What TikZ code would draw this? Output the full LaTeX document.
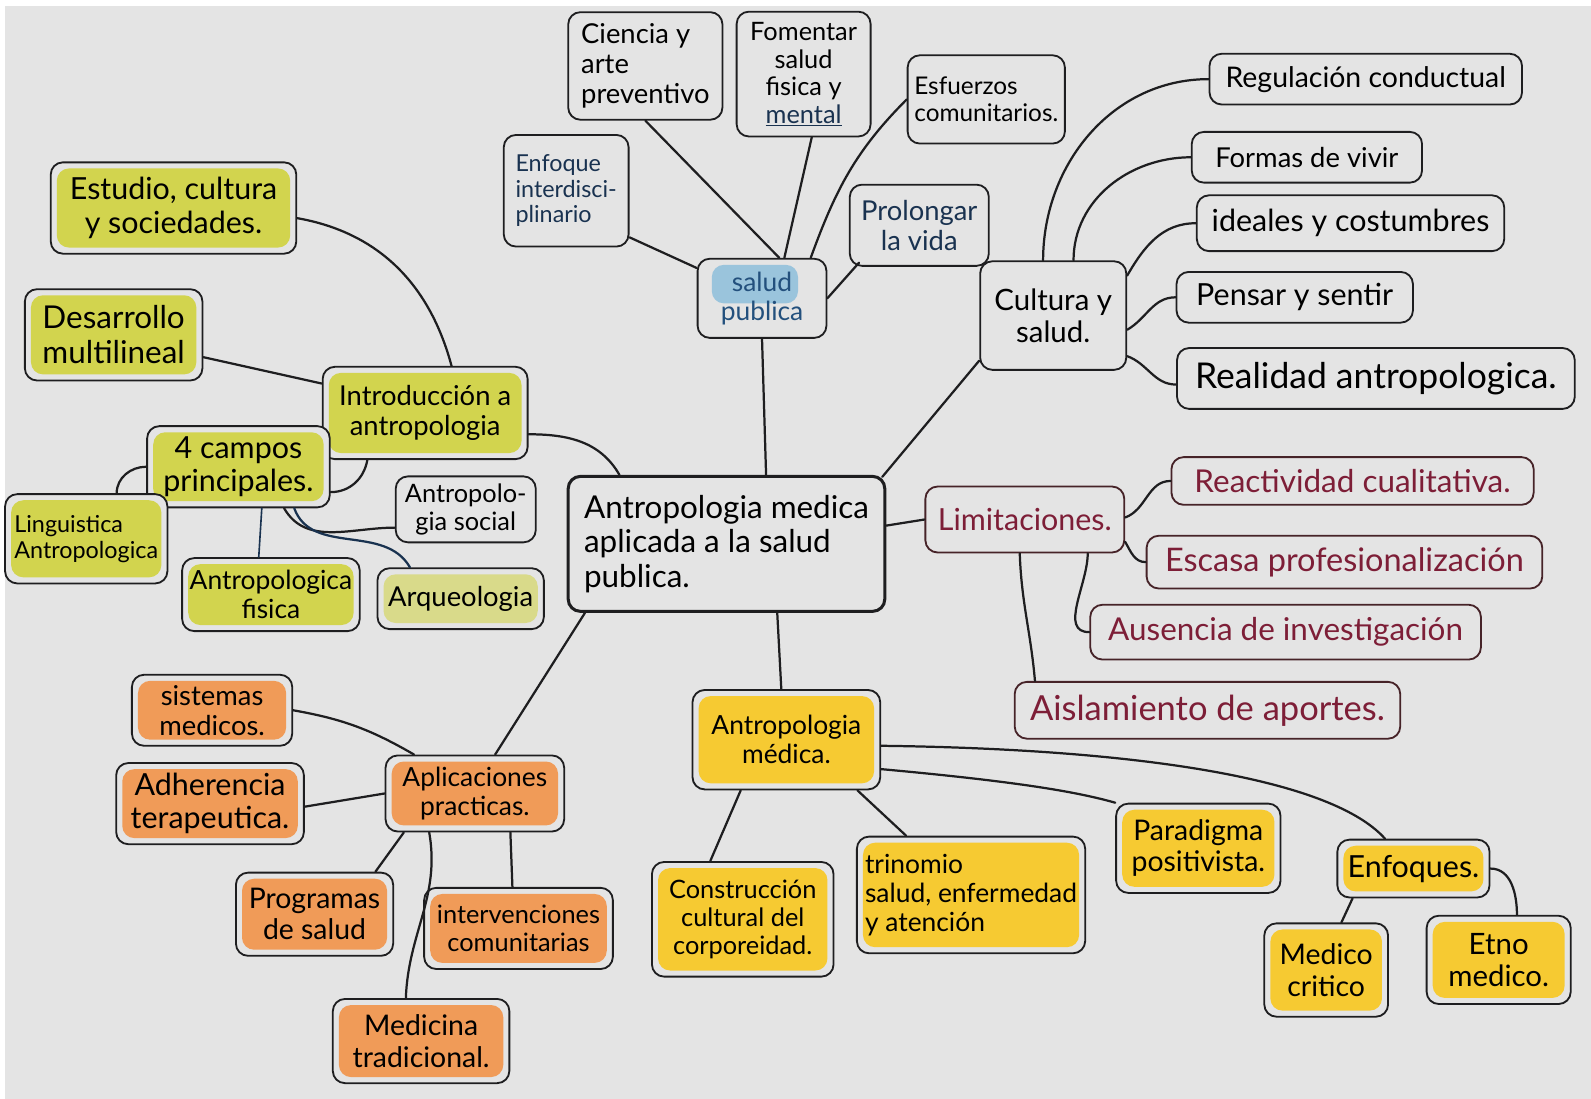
\documentclass[tikz,border=0pt]{standalone}
\usepackage{fontspec}
\setmainfont{Lato}
\definecolor{bg}{RGB}{228,228,228}
\definecolor{ink}{RGB}{30,30,32}
\definecolor{hlgreen}{RGB}{210,212,78}
\definecolor{hlorange}{RGB}{240,155,88}
\definecolor{hlgold}{RGB}{246,202,50}
\definecolor{hlblue}{RGB}{95,170,215}
\definecolor{bluetext}{RGB}{35,80,125}
\definecolor{darkblue}{RGB}{25,50,80}
\definecolor{redtext}{RGB}{125,30,55}
\definecolor{redline}{RGB}{70,35,40}
\tikzset{
  fs/.style={font=\fontsize{#1}{\fpeval{round(#1*1.1,1)}}\selectfont},
  box/.style={draw=ink, line width=1.8pt, rounded corners=12pt, fill=bg, align=center, inner sep=2pt},
  hl/.style={path picture={\fill[#1] ([xshift=6pt,yshift=-6pt]path picture bounding box.north west) rectangle ([xshift=-6pt,yshift=6pt]path picture bounding box.south east);}},
  conn/.style={line width=2.2pt, draw=ink, line cap=round},
  wh/.style 2 args={minimum width=#1, minimum height=#2},
}
\begin{document}
\begin{tikzpicture}[x=1pt,y=-1pt]
\useasboundingbox (0,0) rectangle (1568,1083);
\fill[white] (0,0) rectangle (1568,1083);
\fill[bg] (5,6) rectangle (1568,1083);

% central
\node[box, line width=3pt, wh={312}{133}, align=left, fs=31] (central) at (716,536) {Antropologia medica\\aplicada a la salud\\publica.};

% salud publica group
\node[box, wh={127}{78}, fs=26, text=bluetext, path picture={\fill[hlblue, opacity=0.55] ([xshift=14pt,yshift=-6pt]path picture bounding box.north west) rectangle ([xshift=-28pt,yshift=34pt]path picture bounding box.south east);}] (salud) at (751,294) {salud\\publica};
\node[box, wh={123}{110}, fs=23, align=left, text=darkblue] (enfoque) at (558,188) {Enfoque\\interdisci-\\plinario};
\node[box, wh={152}{106}, fs=27, align=left] (ciencia) at (636,65) {Ciencia y\\arte\\preventivo};
\node[box, wh={132}{123}, font=\fontsize{25}{27}\selectfont] (fomentar) at (792,73) {Fomentar\\salud\\fisica y\\\textcolor{darkblue}{\underline{mental}}};
\node[box, wh={155}{87}, fs=24, align=left] (esfuerzos) at (972,98) {Esfuerzos\\comunitarios.};
\node[box, wh={137}{80}, fs=27, text=darkblue] (prolongar) at (906,222) {Prolongar\\la vida};

% cultura y salud group
\node[box, wh={144}{107}, fs=29] (cultura) at (1038,311) {Cultura y\\salud.};
\node[box, wh={308}{50}, fs=28] (regulacion) at (1346,78) {Regulación conductual};
\node[box, wh={227}{50}, fs=27] (formas) at (1288,155) {Formas de vivir};
\node[box, wh={303}{55}, fs=30] (ideales) at (1331,220) {ideales y costumbres};
\node[box, wh={233}{50}, fs=30] (pensar) at (1276,293) {Pensar y sentir};
\node[box, wh={392}{60}, fs=35] (realidad) at (1356,373) {Realidad antropologica.};

% limitaciones group
\node[box, draw=redline, wh={196}{65}, fs=30, text=redtext] (limitaciones) at (1010,512) {Limitaciones.};
\node[box, draw=redline, wh={357}{47}, fs=31, text=redtext] (reactividad) at (1333,474) {Reactividad cualitativa.};
\node[box, draw=redline, wh={390}{52}, fs=32, text=redtext] (escasa) at (1325,554) {Escasa profesionalización};
\node[box, draw=redline, wh={385}{54}, fs=31, text=redtext] (ausencia) at (1267,623) {Ausencia de investigación};
\node[box, draw=redline, wh={380}{56}, fs=34, text=redtext] (aislamiento) at (1190,700) {Aislamiento de aportes.};

% introduccion group
\node[box, hl=hlgreen, wh={202}{91}, fs=27] (introduccion) at (419,407) {Introducción a\\antropologia};
\node[box, hl=hlgreen, wh={242}{90}, fs=30] (estudio) at (171,205) {Estudio, cultura\\y sociedades.};
\node[box, hl=hlgreen, wh={175}{90}, fs=31, align=left] (desarrollo) at (112,330) {Desarrollo\\multilineal};
\node[box, hl=hlgreen, wh={180}{80}, fs=30] (campos) at (235,460) {4 campos\\principales.};
\node[box, hl=hlgreen, wh={160}{88}, fs=23, align=left] (linguistica) at (85,531) {Linguistica\\Antropologica};
\node[box, hl=hlgreen, wh={175}{72}, fs=26] (fisica) at (267,586) {Antropologica\\fisica};
\node[box, wh={138}{65}, fs=25] (social) at (459,502) {Antropolo-\\gia social};
\node[box, hl={hlgreen!60!bg}, wh={164}{60}, fs=27] (arqueologia) at (454,590) {Arqueologia};

% aplicaciones group
\node[box, hl=hlorange, wh={176}{75}, fs=26] (aplicaciones) at (468,782) {Aplicaciones\\practicas.};
\node[box, hl=hlorange, wh={158}{70}, fs=27] (sistemas) at (209,700) {sistemas\\medicos.};
\node[box, hl=hlorange, wh={185}{80}, fs=30] (adherencia) at (207,792) {Adherencia\\terapeutica.};
\node[box, hl=hlorange, wh={155}{82}, fs=28] (programas) at (310,901) {Programas\\de salud};
\node[box, hl=hlorange, wh={186}{80}, fs=25] (intervenciones) at (511,915) {intervenciones\\comunitarias};
\node[box, hl=hlorange, wh={174}{83}, fs=28] (medicina) at (415,1026) {Medicina\\tradicional.};

% antropologia medica group
\node[box, hl=hlgold, wh={185}{98}, fs=26] (antmed) at (775,729) {Antropologia\\médica.};
\node[box, hl=hlgold, wh={179}{113}, fs=25] (construccion) at (732,906) {Construcción\\cultural del\\corporeidad.};
\node[box, hl=hlgold, wh={225}{115}, fs=26, align=left] (trinomio) at (957,882) {trinomio\\salud, enfermedad\\y atención};
\node[box, hl=hlgold, wh={162}{88}, fs=28] (paradigma) at (1181,836) {Paradigma\\positivista.};
\node[box, hl=hlgold, wh={150}{57}, fs=30] (enfoques) at (1393,856) {Enfoques.};
\node[box, hl=hlgold, wh={122}{92}, fs=28] (critico) at (1307,956) {Medico\\critico};
\node[box, hl=hlgold, wh={142}{87}, fs=29] (etno) at (1477,946) {Etno\\medico.};

% ---- connectors ----
\draw[conn] ([xshift=39pt]central.north) -- (salud.south);
\draw[conn] ([xshift=-4pt,yshift=-2pt]central.north east) -- ([yshift=10pt]cultura.south west);
\draw[conn] ([yshift=18pt]central.east) -- (limitaciones.west);
\draw[conn] ([xshift=50pt]central.south) -- ([xshift=-5pt]antmed.north);
\draw[conn] ([xshift=18pt]central.south west) -- ([xshift=20pt]aplicaciones.north);
\draw[conn] ([yshift=-21pt]introduccion.east) to[out=0,in=120] ([xshift=52pt]central.north west);

\draw[conn] ([yshift=10pt]enfoque.south east) -- ([yshift=-10pt]salud.north west);
\draw[conn] (ciencia.south) -- ([xshift=17pt]salud.north);
\draw[conn] ([xshift=8pt]fomentar.south) -- ([xshift=22pt]salud.north);
\draw[conn] (esfuerzos.west) to[out=225,in=70] ([xshift=48pt]salud.north);
\draw[conn] ([xshift=10pt,yshift=4pt]prolongar.south west) -- (salud.east);

\draw[conn] ([xshift=-10pt]cultura.north) to[out=90,in=180] (regulacion.west);
\draw[conn] ([xshift=20pt]cultura.north) to[out=90,in=180] (formas.west);
\draw[conn] ([yshift=-15pt]cultura.north east) to[out=60,in=180] (ideales.west);
\draw[conn] ([yshift=-14pt]cultura.east) to[out=30,in=180] (pensar.west);
\draw[conn] ([yshift=-40pt]cultura.east) to[out=-20,in=180] ([yshift=-6pt]realidad.west);

\draw[conn] ([yshift=2pt]limitaciones.east) to[out=20,in=180] (reactividad.west);
\draw[conn] ([yshift=-22pt]limitaciones.east) to[out=-60,in=180] (escasa.west);
\draw[conn] ([xshift=62pt]limitaciones.south) to[out=-90,in=180] (ausencia.west);
\draw[conn] ([xshift=-5pt]limitaciones.south) to[out=-88,in=95] ([xshift=-170pt]aislamiento.north);

\draw[conn] ([yshift=-10pt]estudio.east) to[out=-10,in=105] ([xshift=26pt]introduccion.north);
\draw[conn] ([yshift=-22pt]desarrollo.east) -- ([yshift=29pt]introduccion.west);
\draw[conn] ([xshift=-57pt]introduccion.south) to[out=-100,in=0] ([yshift=-25pt]campos.east);
\draw[conn] (campos.west) to[out=180,in=90] ([xshift=30pt]linguistica.north);
\draw[conn, draw=darkblue, line width=1.6pt] ([xshift=23pt]campos.south) -- ([xshift=-12pt]fisica.north);
\draw[conn] ([xshift=45pt]campos.south) to[out=-60,in=180] ([yshift=-18pt]social.west);
\draw[conn, draw=darkblue] ([xshift=55pt]campos.south) to[out=-70,in=120] ([xshift=-50pt]arqueologia.north);

\draw[conn] (sistemas.east) to[out=-10,in=150] ([xshift=-60pt]aplicaciones.north);
\draw[conn] ([yshift=-3pt]adherencia.east) -- (aplicaciones.west);
\draw[conn] ([xshift=60pt]programas.north) -- ([xshift=-70pt]aplicaciones.south);
\draw[conn] ([xshift=-6pt]intervenciones.north) -- ([xshift=35pt]aplicaciones.south);
\draw[conn] ([xshift=-15pt]medicina.north) to[out=88,in=-80] ([xshift=-45pt]aplicaciones.south);

\draw[conn] ([xshift=-32pt]construccion.north) -- ([xshift=-45pt]antmed.south);
\draw[conn] ([xshift=-64pt]trinomio.north) -- ([xshift=70pt]antmed.south);
\draw[conn] ([yshift=-29pt]antmed.east) .. controls (1000,770) and (1060,780) .. (paradigma.north west);
\draw[conn] ([yshift=-6pt]antmed.east) .. controls (1110,738) and (1310,765) .. ([xshift=-28pt]enfoques.north);
\draw[conn] ([xshift=-60pt]enfoques.south) -- ([xshift=15pt]critico.north);
\draw[conn] (enfoques.east) to[out=0,in=90] ([xshift=18pt]etno.north);
\end{tikzpicture}
\end{document}
